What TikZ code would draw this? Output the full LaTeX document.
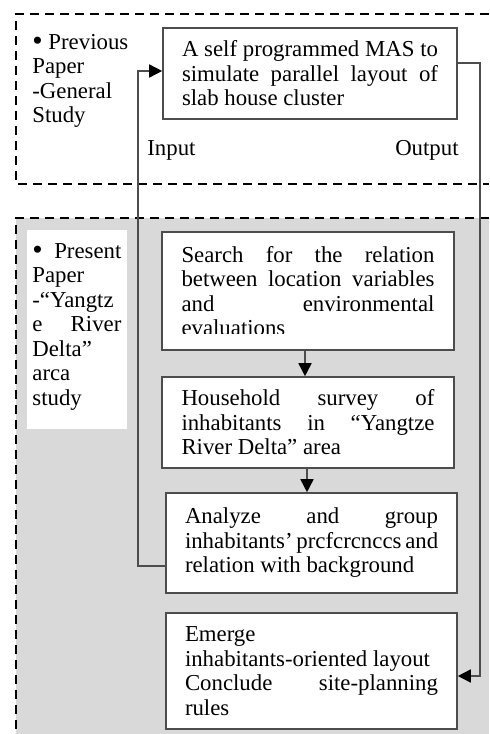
\documentclass[tikz,border=0pt]{standalone}
\usepackage{fontspec}
\usepackage{graphicx}
\setmainfont{Liberation Serif}
\usetikzlibrary{arrows.meta}
\definecolor{bggray}{HTML}{D9D9D9}
\definecolor{edgegray}{HTML}{4D4D4D}
\newcommand\jl[1]{\makebox[\linewidth][s]{#1}}
\newcommand\bigbul{\raisebox{-0.6pt}{\scalebox{1.3}{\textbullet}}}
\begin{document}
\begin{tikzpicture}[x=0.5pt,y=-0.5pt,
  font=\fontsize{11.4}{12.25}\selectfont,
  stepbox/.style={draw=edgegray, line width=0.8pt, fill=white, inner sep=0pt},
  conn/.style={draw=edgegray, line width=0.8pt},
  arr/.style={conn, -{Triangle[length=6.5pt,width=6.5pt,color=black]}},
  dashbox/.style={line width=1.2pt, dash pattern=on 4.5pt off 3pt},
  lbl/.style={inner sep=0pt}]
\useasboundingbox (0,0) rectangle (489,734);
% lower (present paper) area
\fill[bggray] (16,218) rectangle (489,734);
\draw[dashbox] (489,218) -- (16,218) -- (16,734);
% upper (previous paper) area
\draw[dashbox] (489,14) -- (16,14) -- (16,184) -- (489,184);
% left labels
\node[lbl, anchor=base west] (prev) at (32,49)
  {\parbox[t]{60pt}{\bigbul\ Previous\\Paper\\-General\\Study}};
\node[fill=white, inner sep=0pt, minimum width=50pt, minimum height=99.5pt] (pbox) at (77,329.5) {};
\node[lbl, anchor=base west] (pres) at (32,258)
  {\parbox[t]{44.5pt}{\jl{\bigbul\ Present}\\Paper\\-“Yangtz\\\jl{e River}\\Delta”\\arca\\study}};
% input / output labels
\node[lbl, anchor=base west] (inlbl) at (147,155) {Input};
\node[lbl, anchor=base east] (outlbl) at (459,155) {Output};
% loop connectors
\coordinate (lb) at (138,566);
\coordinate (lt) at (138,71);
\coordinate (rt) at (480,63);
\coordinate (rb) at (480,676);
% boxes
\node[stepbox, minimum width=147pt, minimum height=45.5pt] (b1) at (310,73.5)
  {\parbox{128pt}{\jl{A self programmed MAS to}\\\jl{simulate parallel layout of}\\slab house cluster}};
\node[stepbox, minimum width=146pt, minimum height=59pt] (b2) at (308,291) {};
\begin{scope}
\clip (162,232) rectangle (454,333);
\node[lbl] (b2text) at (b2.center)
  {\parbox{126.5pt}{\jl{Search for the relation}\\\jl{between location variables}\\\jl{and environmental}\\evaluations}};
\end{scope}
\node[stepbox, minimum width=146pt, minimum height=45.5pt] (b3) at (308,422.5)
  {\parbox{126.5pt}{\jl{Household survey of}\\\jl{inhabitants in “Yangtze}\\River Delta” area}};
\node[stepbox, minimum width=145.5pt, minimum height=50pt] (b4) at (311.5,543)
  {\parbox{126.5pt}{\jl{Analyze and group}\\\jl{inhabitants’ prcfcrcnccs and}\\relation with background}};
\node[stepbox, minimum width=145.5pt, minimum height=58pt] (b5) at (311.5,671)
  {\parbox{126.5pt}{Emerge\\inhabitants-oriented layout\\\jl{Conclude site-planning}\\rules}};
% connectors
\draw[arr] (b4.west |- lb) -- (lb) -- (lt) -- (b1.west |- lt);
\draw[arr] (b1.east |- rt) -- (rt) -- (rb) -- (b5.east |- rb);
\draw[arr] (b2.south -| 305,0) -- (b3.north -| 305,0);
\draw[arr] (b3.south -| 307,0) -- (b4.north -| 307,0);
\end{tikzpicture}
\end{document}
